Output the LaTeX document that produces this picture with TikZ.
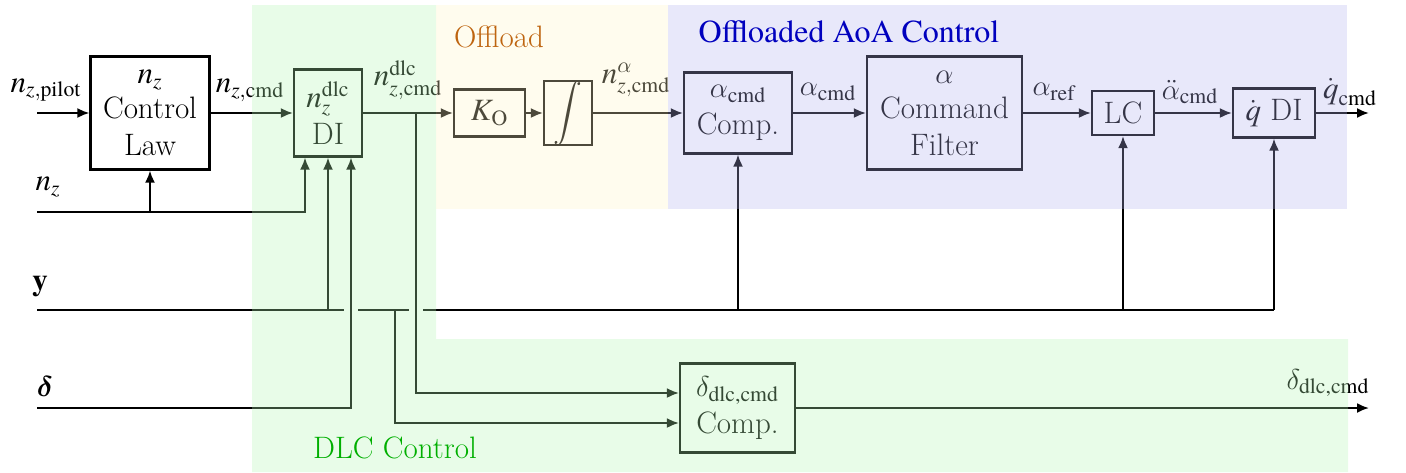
\documentclass[tikz,border=0pt]{standalone}
\usepackage{amsmath}
\usepackage{fontspec}
\setmainfont{texgyretermes}[Extension=.otf, UprightFont=*-regular, BoldFont=*-bold, ItalicFont=*-italic, BoldItalicFont=*-bolditalic]
\newfontfamily\tms{texgyretermes}[Extension=.otf, UprightFont=*-regular, BoldFont=*-bold, ItalicFont=*-italic, BoldItalicFont=*-bolditalic]
\newfontfamily\lmr{Latin Modern Roman}
\usetikzlibrary{arrows.meta}
\newcommand{\mi}[1]{\text{\tms\itshape #1}}
\newcommand{\mr}[1]{\text{\tms\upshape #1}}
\definecolor{ovgreen}{RGB}{178,245,178}
\definecolor{ovyellow}{RGB}{255,245,198}
\definecolor{ovblue}{RGB}{178,178,238}
\definecolor{txorange}{RGB}{190,100,15}
\definecolor{txblue}{RGB}{0,0,190}
\definecolor{txgreen}{RGB}{0,175,0}
\begin{document}
\begin{tikzpicture}[x=0.5pt,y=-0.5pt,
  every node/.style={font=\lmr\fontsize{15.5}{18.5}\selectfont, inner sep=0pt},
  blk/.style={draw, line width=1.1pt, align=center},
  ln/.style={line width=1pt},
  sig/.style={line width=1pt, -{Latex[length=6pt,width=5pt]}},
  lbl/.style={anchor=center}]
\useasboundingbox (0,0) rectangle (1406,472);
% blocks
\node[blk, minimum width=59.5pt, minimum height=56.5pt] (CL) at (150,113) {$\mi{n}_{\mi{z}}$\\[-1pt]Control\\Law};
\node[blk, minimum width=34pt, minimum height=43.5pt] (DI) at (328,113) {$\mi{n}_{\mi{z}}^{\mr{dlc}}$\\DI};
\node[blk, minimum width=35.5pt, minimum height=23.5pt] (KO) at (489.5,113) {$\mi{K}_{\mr{O}}$};
\node[blk, minimum width=24pt, minimum height=30.5pt] (INT) at (568,113) {$\displaystyle\int$};
\node[blk, minimum width=54pt, minimum height=40.5pt] (AC) at (738,113) {$\alpha_{\mr{cmd}}$\\Comp.};
\node[blk, minimum width=77.5pt, minimum height=56.5pt] (CF) at (944.5,113) {$\alpha$\\[-1pt]Command\\Filter};
\node[blk, minimum width=31pt, minimum height=22pt] (LC) at (1123,113) {LC};
\node[blk, minimum width=41pt, minimum height=24.5pt] (QDI) at (1274,113) {$\dot{\mi{q}}$ DI};
\node[blk, minimum width=57.5pt, minimum height=44.5pt] (DC) at (737.5,408) {$\delta_{\mr{dlc,cmd}}$\\Comp.};
% coordinates
\coordinate (nzpin) at (37,113);
\coordinate (nzin) at (37,212);
\coordinate (nzj) at (150,212);
\coordinate (yin) at (37,310);
\coordinate (din) at (37,408);
\coordinate (ga1) at (344,310);
\coordinate (gb1) at (358,310);
\coordinate (ga2) at (409,310);
\coordinate (gb2) at (423,310);
\coordinate (yend) at (1274,310);
\coordinate (b1) at (416,113);
\coordinate (b2) at (395,310);
\coordinate (DCin1) at ([yshift=7.5pt]DC.west);
\coordinate (DCin2) at ([yshift=-7.5pt]DC.west);
\coordinate (DIin1) at ([xshift=-11.5pt]DI.south);
\coordinate (DIin3) at ([xshift=11.5pt]DI.south);
\coordinate (qout) at (1369,113);
\coordinate (dout) at (1369,408);
% connectors
\draw[sig] (nzpin) -- (CL.west);
\draw[sig] (CL.east) -- (DI.west);
\draw[sig] (nzin) -- (DIin1 |- nzin) -- (DIin1);
\draw[sig] (nzj) -- (CL.south);
\draw[ln] (yin) -- (ga1);
\draw[ln] (gb1) -- (ga2);
\draw[ln] (gb2) -- (yend);
\draw[sig] (DI.south |- yin) -- (DI.south);
\draw[sig] (din) -- (DIin3 |- din) -- (DIin3);
\draw[sig] (DI.east) -- (KO.west);
\draw[sig] (KO.east) -- (INT.west);
\draw[sig] (INT.east) -- (AC.west);
\draw[sig] (AC.east) -- (CF.west);
\draw[sig] (CF.east) -- (LC.west);
\draw[sig] (LC.east) -- (QDI.west);
\draw[sig] (QDI.east) -- (qout);
\draw[sig] (b1) -- (b1 |- DCin1) -- (DCin1);
\draw[sig] (b2) -- (b2 |- DCin2) -- (DCin2);
\draw[sig] (AC.south |- yin) -- (AC.south);
\draw[sig] (LC.south |- yin) -- (LC.south);
\draw[sig] (yend) -- (QDI.south);
\draw[sig] (DC.east) -- (dout);
% labels
\node[lbl] (l1) at (46,90) {$\mi{n}_{\mi{z},\mr{pilot}}$};
\node[lbl] (l2) at (250,90) {$\mi{n}_{\mi{z},\mr{cmd}}$};
\node[lbl] (l3) at (48,187) {$\mi{n}_{\mi{z}}$};
\node[lbl] (l4) at (408,80) {$\mi{n}_{\mi{z},\mr{cmd}}^{\mr{dlc}}$};
\node[lbl] (l5) at (636,80) {$\mi{n}_{\mi{z},\mr{cmd}}^{\alpha}$};
\node[lbl] (l6) at (828,92) {$\alpha_{\mr{cmd}}$};
\node[lbl] (l7) at (1054,92) {$\alpha_{\mr{ref}}$};
\node[lbl] (l8) at (1190,92) {$\ddot{\alpha}_{\mr{cmd}}$};
\node[lbl] (l9) at (1350,92) {$\dot{\mi{q}}_{\mr{cmd}}$};
\node[lbl] (l10) at (1328,383) {$\delta_{\mr{dlc,cmd}}$};
\node[lbl] (l11) at (40,287) {\tms\bfseries y};
\node[lbl] (l12) at (45,386) {$\boldsymbol{\delta}$};
% overlays
\fill[ovgreen, fill opacity=0.3] (252,5) -- (436,5) -- (436,339) -- (1348,339) -- (1348,472) -- (252,472) -- cycle;
\fill[ovyellow, fill opacity=0.3] (436,5) rectangle (668,209);
\fill[ovblue, fill opacity=0.3] (668,5) rectangle (1347,209);
% region titles
\node[lbl, text=txorange] (r1) at (499,37) {Offload};
\node[lbl, text=txblue] (r2) at (849,32) {\tms\fontsize{16}{18.5}\selectfont Offloaded AoA Control};
\node[lbl, text=txgreen] (r3) at (395,448) {DLC Control};
\end{tikzpicture}
\end{document}
